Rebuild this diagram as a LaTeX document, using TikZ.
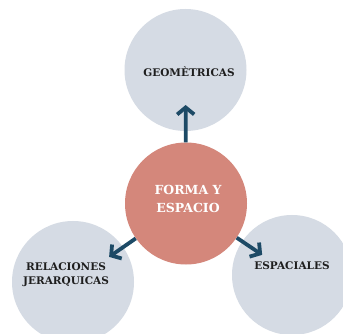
\documentclass[tikz,border=0pt]{standalone}
\usepackage{fontspec}
\setmainfont{DejaVu Serif}
\usetikzlibrary{arrows.meta}

\definecolor{bubblegray}{HTML}{D5DBE4}
\definecolor{coresalmon}{HTML}{D4877B}
\definecolor{arrowblue}{HTML}{1D4A66}
\definecolor{inktext}{HTML}{1E1E1E}

\tikzset{
	bubble/.style={shape=circle,fill=bubblegray,draw=none,inner sep=0pt,minimum size=122pt},
	core/.style={shape=circle,fill=coresalmon,draw=none,inner sep=0pt,minimum size=122pt},
	outtext/.style={text=inktext,font=\fontsize{10.5}{14}\selectfont\bfseries,align=center},
	coretext/.style={text=white,font=\fontsize{12.5}{18}\selectfont\bfseries,align=center},
	arrowline/.style={draw=arrowblue,line width=3.8pt,-{Straight Barb[length=7pt,width=17pt]}}
}

\begin{document}
\begin{tikzpicture}[x=1pt,y=-1pt]
	\useasboundingbox[fill=white] (0,0) rectangle (343,334);
	\node[bubble] (geo) at (185.5, 70)  {};
	\node[bubble] (rel) at (73, 282)    {};
	\node[bubble,minimum size=120pt] (esp) at (292, 275) {};
	\node[core]   (fe)  at (186, 203.5) {};
	\node[outtext]  (geoT) at (189, 72)  {GEOMÈTRICAS};
	\node[outtext]  (relT) at (66, 275)  {RELACIONES\\JERARQUICAS};
	\node[outtext]  (espT) at (292, 266) {ESPACIALES};
	\node[coretext] (feT)  at (188, 199) {FORMA Y\\ESPACIO};
	\draw[arrowline,shorten >=35pt] (fe) -- (geo.center);
	\draw[arrowline,shorten >=44pt] (fe) -- (rel.center);
	\draw[arrowline,shorten >=36pt] (fe) -- (esp.center);
\end{tikzpicture}
\end{document}
